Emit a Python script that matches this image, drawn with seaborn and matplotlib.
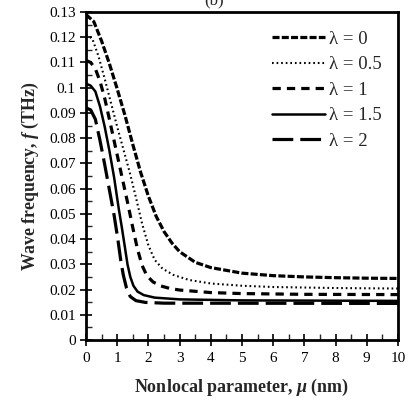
import numpy as np
import pandas as pd
import matplotlib
matplotlib.use('Agg')
import matplotlib.pyplot as plt
from matplotlib.ticker import MultipleLocator
import seaborn as sns

# 곡선 데이터
mu_l0 = [0, 0.25, 0.5, 0.75, 1.0, 1.25, 1.5, 1.75, 2.0, 2.25, 2.5, 2.75, 3.0, 3.5, 4, 5, 6, 7, 8, 9, 10]
f_l0 = [0.1290, 0.1262, 0.1185, 0.1095, 0.0995, 0.0890, 0.0775, 0.0665, 0.0570, 0.0490, 0.0430, 0.0385,
        0.0350, 0.0308, 0.0287, 0.0265, 0.0255, 0.0250, 0.0247, 0.0245, 0.0244]

mu_l05 = [0, 0.2, 0.4, 0.6, 0.8, 1.0, 1.2, 1.4, 1.6, 1.8, 2.0, 2.2, 2.45, 2.8, 3.3, 4, 5, 6, 8, 10]
f_l05 = [0.1210, 0.1195, 0.1125, 0.1035, 0.0940, 0.0845, 0.0755, 0.0665, 0.0565, 0.0460, 0.0375, 0.0318,
         0.0283, 0.0258, 0.0238, 0.0224, 0.0215, 0.0210, 0.0206, 0.0204]

mu_l1 = [0, 0.15, 0.3, 0.45, 0.6, 0.75, 0.9, 1.05, 1.2, 1.35, 1.5, 1.65, 1.8, 1.95, 2.15, 2.4, 2.7, 3.0,
         4, 5, 7, 10]
f_l1 = [0.1108, 0.1100, 0.1075, 0.1025, 0.0958, 0.0875, 0.0790, 0.0705, 0.0620, 0.0535, 0.0445, 0.0360,
        0.0295, 0.0255, 0.0230, 0.0214, 0.0204, 0.0198, 0.0188, 0.0184, 0.0181, 0.0180]

mu_l15 = [0, 0.15, 0.3, 0.45, 0.6, 0.75, 0.9, 1.05, 1.15, 1.25, 1.33, 1.42, 1.52, 1.65, 1.85, 2.2, 3, 5, 10]
f_l15 = [0.1016, 0.1008, 0.0985, 0.0925, 0.0845, 0.0750, 0.0645, 0.0520, 0.0445, 0.0365, 0.0300, 0.0250,
         0.0215, 0.0192, 0.0178, 0.0168, 0.0161, 0.0157, 0.0155]

mu_l2 = [0, 0.15, 0.3, 0.45, 0.6, 0.75, 0.9, 1.02, 1.12, 1.2, 1.3, 1.42, 1.6, 1.9, 2.5, 10]
f_l2 = [0.0920, 0.0912, 0.0875, 0.0790, 0.0695, 0.0595, 0.0495, 0.0400, 0.0310, 0.0255, 0.0205, 0.0172,
        0.0156, 0.0149, 0.0146, 0.0145]

labels = ['λ = 0', 'λ = 0.5', 'λ = 1', 'λ = 1.5', 'λ = 2']

sns.set_style('ticks')
plt.rcParams['font.family'] = ['Liberation Serif', 'DejaVu Serif']
plt.rcParams['mathtext.fontset'] = 'custom'
plt.rcParams['mathtext.it'] = 'Liberation Serif:italic:bold'
plt.rcParams['mathtext.rm'] = 'Liberation Serif:bold'

fig = plt.figure(figsize=(4.12, 4.01), dpi=100)
ax = fig.add_axes([86/412, 1-340/401, 312/412, 328/401])

series = [(mu_l0, f_l0, (0, (2.2, 0.7)), 2.3),
          (mu_l05, f_l05, (0, (0.8, 1.4)), 1.5),
          (mu_l1, f_l1, (0, (2.6, 1.9)), 2.3),
          (mu_l15, f_l15, '-', 1.8),
          (mu_l2, f_l2, (0, (6.5, 2.2)), 2.3)]
for (x, y, ls, lw), lab in zip(series, labels):
    sns.lineplot(x=x, y=y, ax=ax, color='black', linestyle=ls, linewidth=lw, label=lab,
                 sort=False, estimator=None)

ax.set_xlim(0, 10)
ax.set_ylim(0, 0.13)
ax.xaxis.set_major_locator(MultipleLocator(1))
ax.xaxis.set_minor_locator(MultipleLocator(0.5))
ax.yaxis.set_major_locator(MultipleLocator(0.01))
ax.yaxis.set_minor_locator(MultipleLocator(0.005))
ax.set_yticklabels(['0' if abs(v) < 1e-9 else f'{v:g}' for v in ax.get_yticks()])
ax.tick_params(which='major', direction='inout', length=8, width=1.2, labelsize=11, colors='black')
ax.tick_params(which='minor', direction='in', length=4, width=1.0)
ax.tick_params(axis='x', pad=5)
for s in ax.spines.values():
    s.set_linewidth(2)
    s.set_color('black')

ax.set_xlabel(r'Nonlocal parameter, $\mathit{\mu}$ (nm)', fontsize=13, fontweight='bold', labelpad=8)
ax.set_ylabel(r'Wave frequency, $\mathit{f}$ (THz)', fontsize=12.8, fontweight='bold', labelpad=6)

leg = ax.legend(loc='upper left', frameon=False, fontsize=13.5, handlelength=2.8,
                handletextpad=0.2, labelspacing=0.45, bbox_to_anchor=(0.543, 0.995))

fig.text(0.52, 1.0, '(b)', fontsize=12, ha='center', va='center')

fig.savefig('out.png', dpi=100)
